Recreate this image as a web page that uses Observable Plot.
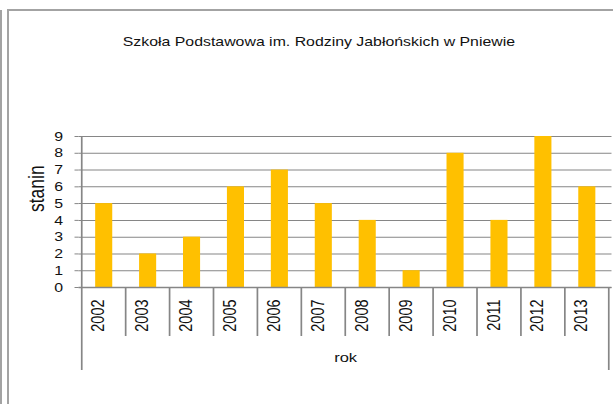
<!DOCTYPE html>
<html><head><meta charset="utf-8">
<script src="https://cdn.jsdelivr.net/npm/d3@7"></script>
<script src="https://cdn.jsdelivr.net/npm/@observablehq/plot@0.6"></script>
<style>
body{margin:0;background:#fff;}
#wrap{position:relative;width:613px;height:404px;overflow:hidden;background:#fff;}
#chart{position:absolute;left:0;top:0;transform:scaleX(1.22);transform-origin:0 0;}
.b{position:absolute;background:#a3a3a3;}
</style></head><body>
<div id="wrap">
<div id="chart"></div>
<div class="b" style="left:0;top:10px;width:2px;height:394px"></div>
<div class="b" style="left:7px;top:9px;width:2px;height:395px"></div>
<div class="b" style="left:7px;top:9px;width:606px;height:2px"></div>
</div>
<script>
const title = "Szkoła Podstawowa im. Rodziny Jabłońskich w Pniewie";
const years = ["2002","2003","2004","2005","2006","2007","2008","2009","2010","2011","2012","2013"];
const stanin = [5,2,3,6,7,5,4,1,8,4,9,6];
const yTicks = [0,1,2,3,4,5,6,7,8,9];
const yLabel = "stanin";
const xLabel = "rok";

const data = years.map((y,i)=>({rok:y, stanin:stanin[i]}));
const K = 1.22;
const W = 613/K;
const txt = "#111";
const plot = Plot.plot({
  width: W, height: 404,
  marginLeft: 78.5/K, marginRight: W - 611.5/K, marginTop: 136, marginBottom: 117,
  style:{fontFamily:"'Liberation Sans', Arial, sans-serif", fontSize:"13px", color:txt, background:"transparent", overflow:"visible"},
  x:{domain: years, paddingInner:0.6, paddingOuter:0.3, axis:null},
  y:{domain:[0,9], axis:null},
  marks:[
    Plot.gridY(yTicks, {stroke:"#868686", strokeOpacity:1}),
    Plot.barY(data, {x:"rok", y:"stanin", fill:"#FFC000"}),
    Plot.ruleY([0], {stroke:"#868686", strokeWidth:1.3}),
    Plot.axisY(yTicks, {tickSize: 4/K, tickPadding: 12/K, stroke:"#868686", fill:txt, label:null, fontSize:13}),
    Plot.text(years, {x: d=>d, frameAnchor:"bottom", rotate:-90, textAnchor:"end", dy:12, fontSize:14.5, fill:txt}),
    Plot.text([yLabel], {frameAnchor:"left", rotate:-90, dx:(37-78.5)/K, fontSize:17.5, fill:txt}),
    Plot.text([xLabel], {frameAnchor:"bottom", dy:75, fontSize:13.5, fill:txt}),
    Plot.text([title], {frameAnchor:"top", dx:(318.3-345)/K, dy:-100, fontSize:13, fill:txt})
  ]
});
document.getElementById("chart").appendChild(plot);

// category separators and axis lines, positioned from Plot's own scales
const sx = plot.scale("x"), sy = plot.scale("y");
const step = sx.apply(years[1]) - sx.apply(years[0]);
const off = (step - sx.bandwidth)/2;
const bounds = years.map(y => sx.apply(y) - off);
bounds.push(bounds[bounds.length-1] + step);
const g = d3.select(plot).append("g").attr("stroke","#868686").attr("stroke-width",1.4);
const y0 = sy.apply(0), y9 = sy.apply(9);
g.append("line").attr("x1",bounds[0]).attr("x2",bounds[0]).attr("y1",y9).attr("y2",y0);
bounds.forEach((b,i)=>{
  const outer = (i===0 || i===bounds.length-1);
  g.append("line").attr("x1",b).attr("x2",b).attr("y1",y0).attr("y2", outer ? 370 : 336);
});
</script>
</body></html>
